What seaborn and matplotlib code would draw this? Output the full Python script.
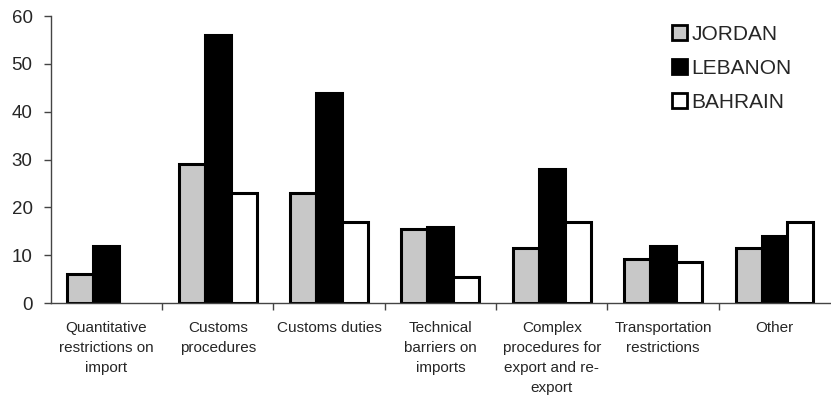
import matplotlib
matplotlib.use("Agg")
import matplotlib.pyplot as plt
import seaborn as sns
import pandas as pd
import numpy as np
from matplotlib.ticker import FixedLocator

categories = ["Quantitative\nrestrictions on\nimport", "Customs\nprocedures", "Customs duties",
              "Technical\nbarriers on\nimports", "Complex\nprocedures for\nexport and re-\nexport",
              "Transportation\nrestrictions", "Other"]
jordan = [6, 29, 23, 15.5, 11.5, 9.3, 11.5]
lebanon = [12, 56, 44, 16, 28, 12, 14]
bahrain = [np.nan, 23, 17, 5.5, 17, 8.5, 17]
series = ["JORDAN", "LEBANON", "BAHRAIN"]
colors = ["#c8c8c8", "#000000", "#ffffff"]

rows = []
for name, vals in zip(series, [jordan, lebanon, bahrain]):
    for c, v in zip(categories, vals):
        rows.append({"cat": c, "country": name, "value": v})
df = pd.DataFrame(rows)

sns.set_style("white")
plt.rcParams['font.family'] = ['Liberation Sans', 'DejaVu Sans']

fig = plt.figure(figsize=(8.31, 4.01), dpi=100)
ax = fig.add_axes([0.061, 0.244, 0.938, 0.716])
sns.barplot(data=df, x="cat", y="value", hue="country", order=categories,
            hue_order=series, palette=colors, edgecolor="black", linewidth=2.2,
            width=0.7, gap=0, ax=ax, errorbar=None, saturation=1)

ax.set_xlim(-0.5, 6.5)
ax.set_ylim(0, 60)
ax.set_yticks([0, 10, 20, 30, 40, 50, 60])
ax.tick_params(axis="y", labelsize=13.5, length=5, width=1, direction="out", left=True,
               color="#444444", pad=8)
ax.set_xticks(range(len(categories)), labels=categories, fontsize=11, linespacing=1.55)
ax.tick_params(axis="x", which="major", length=0, pad=13)
ax.xaxis.set_minor_locator(FixedLocator(np.arange(0.5, 6.5, 1.0)))
ax.tick_params(axis="x", which="minor", length=5, width=1, direction="out", bottom=True, color="#444444")
ax.set_xlabel("")
ax.set_ylabel("")
for s in ["top", "right"]:
    ax.spines[s].set_visible(False)
for s in ["left", "bottom"]:
    ax.spines[s].set_color("#444444")
    ax.spines[s].set_linewidth(1)

leg = ax.legend(loc="upper left", bbox_to_anchor=(0.786, 0.998), frameon=False, fontsize=15,
                handlelength=0.75, handleheight=0.75, handletextpad=0.2, labelspacing=0.72,
                borderaxespad=0)
for h in leg.legend_handles:
    h.set_edgecolor("black")
    h.set_linewidth(2)

fig.savefig("out.png", dpi=100)
